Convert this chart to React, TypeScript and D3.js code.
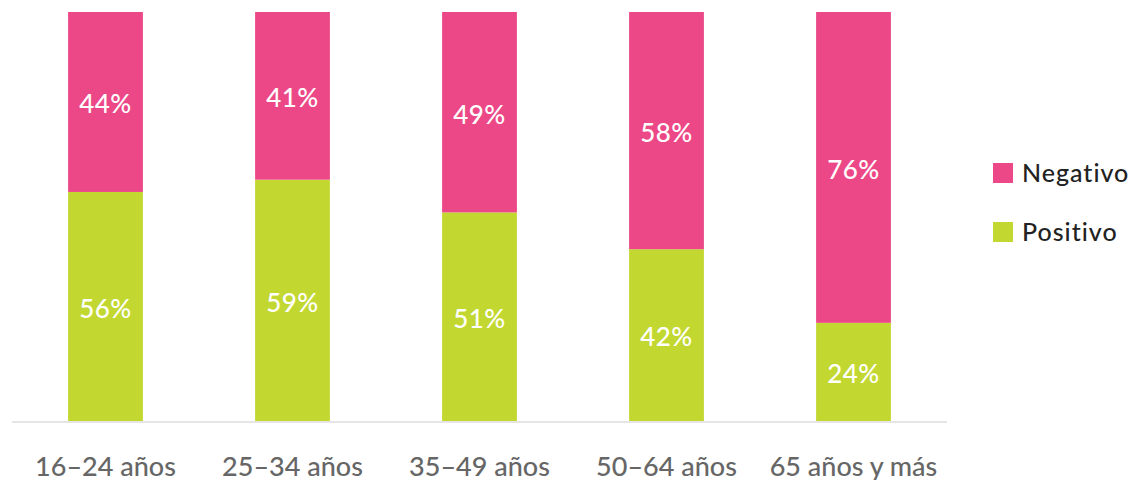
import React from "react";
import * as d3 from "d3";

const categories = ["16–24 años", "25–34 años", "35–49 años", "50–64 años", "65 años y más"];
const positivo = [56, 59, 51, 42, 24];
const negativo = [44, 41, 49, 58, 76];
const seriesNames = ["Negativo", "Positivo"];

const colors: Record<string, string> = { Negativo: "#ec4887", Positivo: "#c2d831" };

export default function App() {
  const width = 1142;
  const height = 480;
  const top = 12;
  const base = 421;
  const font = "Lato, sans-serif";

  const x = d3.scaleBand<string>().domain(categories).range([12, 947]).paddingInner(0.6).paddingOuter(0.3);
  const y = d3.scaleLinear().domain([0, 100]).range([base, top]);

  const rows = categories.map((c, i) => ({ cat: c, Positivo: positivo[i], Negativo: negativo[i] }));
  const stack = d3.stack<any>().keys(["Positivo", "Negativo"])(rows);

  return (
    <svg width={width} height={height} style={{ position: "absolute", left: 0, top: 0 }} fontFamily={font}>
      {stack.map((layer) => (
        <g key={layer.key} fill={colors[layer.key]}>
          {layer.map((d, i) => (
            <rect key={i} x={x(categories[i])} y={y(d[1])} width={x.bandwidth()} height={y(d[0]) - y(d[1])} />
          ))}
        </g>
      ))}
      {stack.map((layer) => (
        <g key={layer.key + "l"}>
          {layer.map((d, i) => (
            <text
              key={i}
              x={(x(categories[i]) as number) + x.bandwidth() / 2}
              y={(y(d[0]) + y(d[1])) / 2 + 2}
              dy="0.36em"
              textAnchor="middle"
              fill="#fff"
              fontSize={26}
              fontWeight={500}
              letterSpacing={0.5}
            >
              {d[1] - d[0]}%
            </text>
          ))}
        </g>
      ))}
      <line x1={12} x2={947} y1={base + 1} y2={base + 1} stroke="#dddddd" strokeWidth={1.5} />
      {categories.map((c) => (
        <text key={c} x={(x(c) as number) + x.bandwidth() / 2} y={476} textAnchor="middle" fill="#666" fontSize={27} fontWeight={500}>
          {c}
        </text>
      ))}
      {seriesNames.map((s, i) => (
        <g key={s} transform={`translate(993,${163 + i * 59})`}>
          <rect width={20} height={20} fill={colors[s]} />
          <text x={29} y={10} dy="0.36em" fill="#222" fontSize={25} fontWeight={500} letterSpacing={1}>
            {s}
          </text>
        </g>
      ))}
    </svg>
  );
}
